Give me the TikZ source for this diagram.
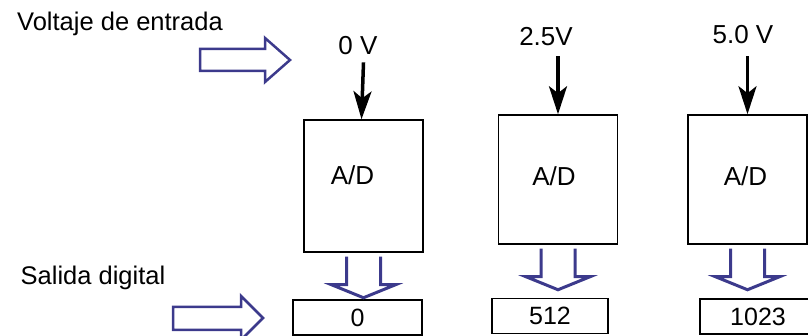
\documentclass[tikz,border=0pt]{standalone}
\usepackage{fontspec}
\setmainfont{Liberation Sans}
\usetikzlibrary{arrows.meta}
\definecolor{pointerblue}{RGB}{60,58,140}

\tikzset{
  adbox/.style={draw, line width=1.5pt, minimum width=119pt, minimum height=129pt, inner sep=0pt},
  adtext/.style={inner sep=0pt, font=\fontsize{26}{28}\selectfont},
  outbox/.style={draw, line width=1.5pt, minimum height=35pt, inner sep=0pt, font=\fontsize{25}{27}\selectfont},
  vlabel/.style={inner sep=0pt, font=\fontsize{26}{28}\selectfont},
  caption/.style={inner sep=0pt, font=\fontsize{25.5}{27}\selectfont},
  inarrow/.style={line width=3.5pt, -{Stealth[length=28pt,width=18pt,inset=7pt]}},
  busline/.style={pointerblue, line width=3pt, line join=miter},
  pointer/.style={pointerblue, line width=2.5pt, line join=miter},
}

% double-line output arrow under an A/D block
\newcommand{\busarrow}[1]{%
  \draw[busline] ([xshift=-17pt,yshift=-4pt]#1.south) -- ++(0,-28) -- ++(-15,0)
    -- ++(32,-13) -- ++(32,13) -- ++(-15,0) -- ++(0,28);}

\begin{document}
\begin{tikzpicture}[x=1pt, y=1pt]
  \useasboundingbox (0,0) rectangle (808,336);

  % captions and their pointers
  \node[caption] (vin) at (120,312) {Voltaje de entrada};
  \node[caption] (dout) at (93,58) {Salida digital};
  \draw[pointer] (200,265) -- (265,265) -- (265,254) -- (290,276) -- (265,298) -- (265,287) -- (200,287) -- cycle;
  \draw[pointer] (173,6) -- (241,6) -- (241,-4) -- (263,18) -- (241,40) -- (241,29) -- (173,29) -- cycle;

  % converters
  \node[adbox, minimum height=132pt] (ad0) at (363.5,150) {};
  \node[adbox] (ad1) at (558,156.5) {};
  \node[adbox] (ad2) at (747.5,156.5) {};
  \node[adtext] (adt0) at ([xshift=-11pt,yshift=11pt]ad0.center) {A/D};
  \node[adtext] (adt1) at ([xshift=-4pt,yshift=3pt]ad1.center) {A/D};
  \node[adtext] (adt2) at ([xshift=-2pt,yshift=3pt]ad2.center) {A/D};

  % input voltages
  \node[vlabel] (v0) at (358,290) {0 V};
  \node[vlabel] (v1) at (546,299) {2.5V};
  \node[vlabel] (v2) at (743,301) {5.0 V};
  \draw[inarrow] ([yshift=-7pt]ad0.north |- v0.south) -- ([xshift=-2pt]ad0.north);
  \draw[inarrow] ([yshift=-10pt]ad1.north |- v1.south) -- (ad1.north);
  \draw[inarrow] ([yshift=-12pt]ad2.north |- v2.south) -- (ad2.north);

  % digital outputs
  \node[outbox, minimum width=129pt] (out0) at (357.5,18.5) {0};
  \node[outbox, minimum width=116pt] (out1) at (550,20) {512};
  \node[outbox, minimum width=116pt] (out2) at (758,19.5) {1023};
  \busarrow{ad0}
  \busarrow{ad1}
  \busarrow{ad2}
\end{tikzpicture}
\end{document}
